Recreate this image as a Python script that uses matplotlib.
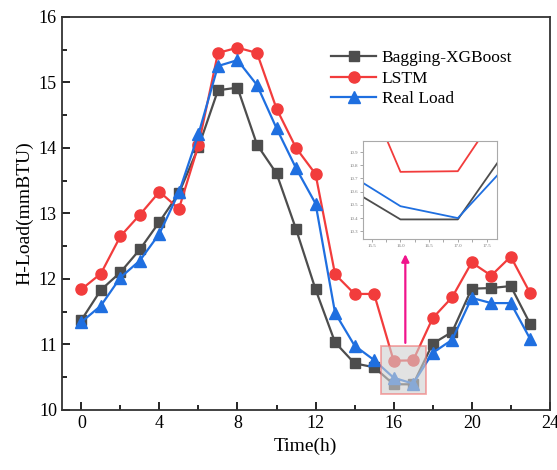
import matplotlib
matplotlib.use('Agg')
import matplotlib.pyplot as plt
from matplotlib.patches import Rectangle

plt.rcParams['font.family'] = ['Liberation Serif', 'DejaVu Serif']

hours = list(range(24))
bagging = [11.37, 11.83, 12.10, 12.45, 12.87, 13.31, 14.01, 14.88, 14.92, 14.05,
           13.61, 12.76, 11.84, 11.03, 10.71, 10.65, 10.39, 10.39, 11.01, 11.19,
           11.85, 11.86, 11.89, 11.31]
lstm = [11.84, 12.08, 12.65, 12.98, 13.33, 13.07, 14.04, 15.45, 15.53, 15.45,
        14.60, 14.00, 13.60, 12.07, 11.77, 11.77, 10.75, 10.755, 11.40, 11.72,
        12.25, 12.05, 12.34, 11.78]
real = [11.34, 11.59, 12.02, 12.28, 12.69, 13.32, 14.21, 15.25, 15.34, 14.96,
        14.30, 13.69, 13.15, 11.48, 10.98, 10.76, 10.49, 10.40, 10.87, 11.07,
        11.71, 11.63, 11.63, 11.08]

c_bag = '#4d4d4d'
c_lstm = '#f23c3c'
c_real = '#1f6fe0'

fig = plt.figure(figsize=(5.57, 4.70), dpi=100)
ax = fig.add_axes([0.111, 0.128, 0.876, 0.836])

ax.plot(hours, bagging, color=c_bag, marker='s', ms=7, lw=1.6, label='Bagging-XGBoost')
ax.plot(hours, lstm, color=c_lstm, marker='o', ms=8, lw=1.6, label='LSTM')
ax.plot(hours, real, color=c_real, marker='^', ms=8, lw=1.6, label='Real Load')

ax.set_xlim(-1, 24)
ax.set_ylim(10, 16)
ax.set_xticks(range(0, 25, 4))
ax.set_xticks(range(2, 24, 4), minor=True)
ax.set_yticks(range(10, 17))
ax.set_yticks([10.5 + i for i in range(6)], minor=True)
ax.tick_params(which='both', direction='in', top=False, right=False, labelsize=13)
ax.tick_params(which='major', length=6, width=1.2)
ax.tick_params(which='minor', length=3.5, width=1.2)
for s in ax.spines.values():
    s.set_linewidth(1.3)
    s.set_color('#333333')
ax.set_xlabel('Time(h)', fontsize=14)
ax.set_ylabel('H-Load(mmBTU)', fontsize=14)

ax.legend(loc='upper left', bbox_to_anchor=(0.52, 0.955), frameon=False,
          fontsize=12.5, handlelength=2.6, handletextpad=0.3, labelspacing=0.25)

# zoom region and arrow
x0, x1, y0, y1 = 15.37, 17.68, 10.24, 10.98
ax.add_patch(Rectangle((x0, y0), x1 - x0, y1 - y0, facecolor='#d0d0d0',
                       edgecolor='#f07070', alpha=0.6, lw=1.3, zorder=5))
ax.annotate('', xy=(16.6, 12.42), xytext=(16.6, y1),
            arrowprops=dict(arrowstyle='-|>', color='#f0148c', lw=1.6,
                            mutation_scale=11), zorder=6)

ins = fig.add_axes([0.651, 0.491, 0.241, 0.208])
ins.plot(hours, bagging, color=c_bag, lw=1.3)
ins.plot(hours, lstm, color=c_lstm, lw=1.3)
ins.plot(hours, real, color=c_real, lw=1.3)
ins.set_xlim(x0 - 0.03, x1)
ins.set_ylim(y0, y1)
ins.set_xticks([15.5, 16.0, 16.5, 17.0, 17.5])
ins.set_xticks([15.75, 16.25, 16.75, 17.25], minor=True)
ins.set_yticks([10.3, 10.4, 10.5, 10.6, 10.7, 10.8, 10.9])
ins.tick_params(which='both', labelsize=3.5, labelcolor='#777777', color='#999999',
                length=2, width=0.6, pad=1.5)
for s in ins.spines.values():
    s.set_color('#aaaaaa')
    s.set_linewidth(0.8)

fig.savefig('out.png', dpi=100)
